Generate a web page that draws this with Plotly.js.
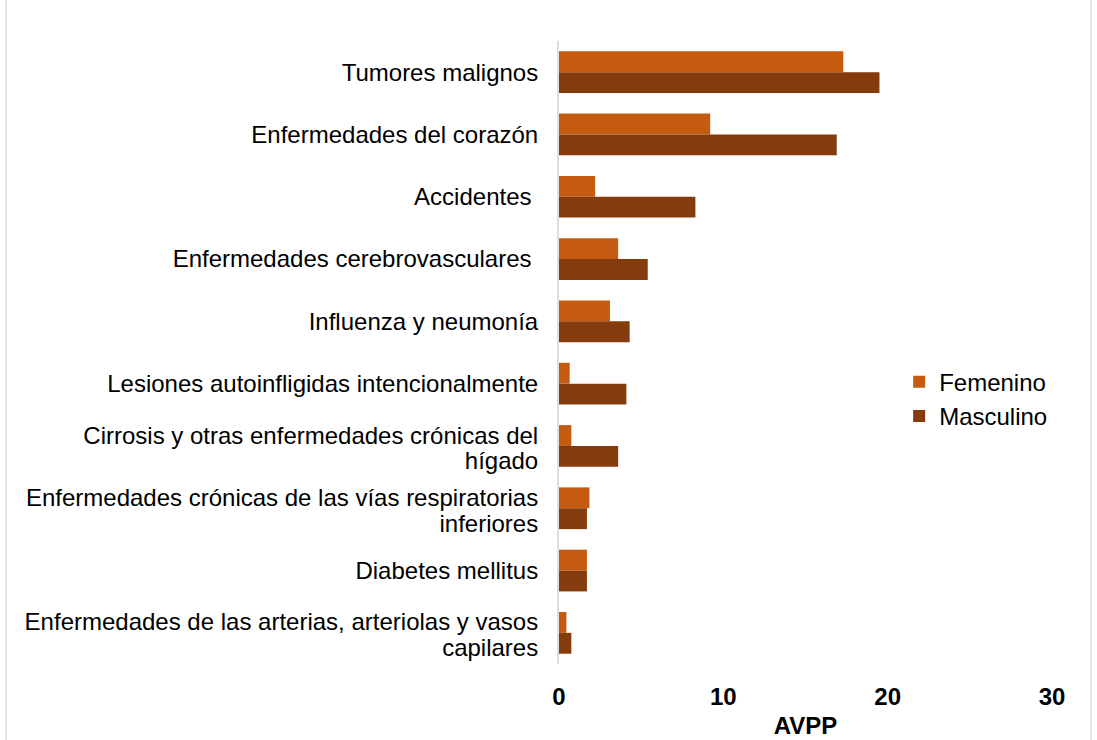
<!DOCTYPE html>
<html>
<head>
<meta charset="utf-8">
<script src="https://cdn.plot.ly/plotly-3.0.1.min.js"></script>
<style>
html,body{margin:0;padding:0;background:#fff;}
#wrap{position:relative;width:1097px;height:740px;}
#chart{width:1097px;height:740px;}
.vline{position:absolute;top:0;width:2px;height:740px;background:#e3e7ee;}
</style>
</head>
<body>
<div id="wrap">
<div id="chart"></div>
<div class="vline" style="left:5px"></div>
<div class="vline" style="left:1090px"></div>
</div>
<script>
const categories = [
  "Tumores malignos",
  "Enfermedades del corazón",
  "Accidentes&nbsp;",
  "Enfermedades cerebrovasculares&nbsp;",
  "Influenza y neumonía",
  "Lesiones autoinfligidas intencionalmente",
  "Cirrosis y otras enfermedades crónicas del<br>hígado",
  "Enfermedades crónicas de las vías respiratorias<br>inferiores",
  "Diabetes mellitus",
  "Enfermedades de las arterias, arteriolas y vasos<br>capilares"
];
const femenino  = [17.3, 9.2, 2.2, 3.6, 3.1, 0.65, 0.75, 1.85, 1.7, 0.45];
const masculino = [19.5, 16.9, 8.3, 5.4, 4.3, 4.1, 3.6, 1.7, 1.7, 0.75];
const xTicks = [0, 10, 20, 30];

const font = "Arial, 'Liberation Sans', sans-serif";

const traces = [
  {type:'bar', orientation:'h', name:'Femenino', y:categories, x:femenino,
   marker:{color:'#C55A11'}},
  {type:'bar', orientation:'h', name:'Masculino', y:categories, x:masculino,
   marker:{color:'#843C0C'}}
];

const layout = {
  width:1097, height:740,
  margin:{l:559, r:45, t:41, b:76},
  paper_bgcolor:'#ffffff', plot_bgcolor:'#ffffff',
  font:{family:font, color:'#000', size:24},
  barmode:'group', bargap:0.33, bargroupgap:0,
  showlegend:true,
  legend:{x:0.69, y:0.425, xanchor:'left', yanchor:'middle', traceorder:'normal',
          font:{size:24, family:font}, itemwidth:30, tracegroupgap:0},
  xaxis:{range:[0,30], tickvals:xTicks, ticktext:xTicks.map(String),
         showgrid:false, zeroline:false, showline:false, ticks:'',
         ticklabelstandoff:16,
         tickfont:{size:24, family:font, weight:'bold'},
         title:{text:'<b>AVPP</b>', font:{size:24, family:font}, standoff:8}},
  yaxis:{type:'category', autorange:'reversed', showgrid:false, zeroline:false,
         showline:true, linecolor:'#d9dee6', linewidth:2, ticks:'',
         ticklabelstandoff:14,
         tickfont:{size:24, family:font}}
};

Plotly.newPlot('chart', traces, layout, {displayModeBar:false, responsive:false}).then(function(gd){
  // tighten line spacing of two-line category labels (reference uses ~1.07 line height)
  gd.querySelectorAll('.ytick text').forEach(function(t){
    const lines = t.querySelectorAll('tspan.line');
    if (lines.length > 1) {
      lines[0].setAttribute('dy', '0.2em');
      for (let i = 1; i < lines.length; i++) lines[i].setAttribute('dy', (0.2 + i * 1.07).toFixed(2) + 'em');
    }
  });
});
</script>
</body>
</html>
